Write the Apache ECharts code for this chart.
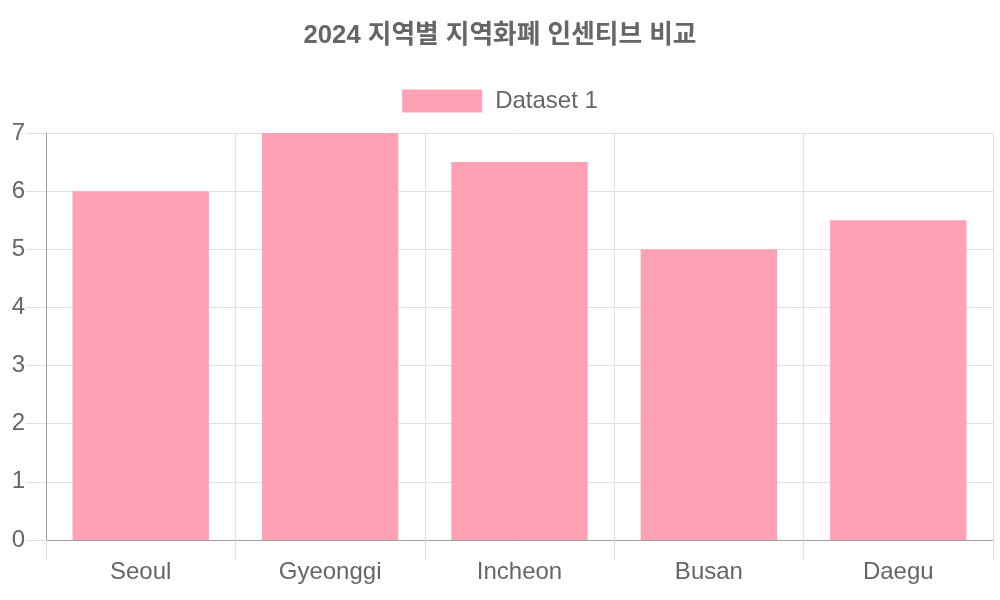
<!DOCTYPE html>
<html>
<head>
<meta charset="utf-8">
<script src="https://cdn.jsdelivr.net/npm/echarts@6/dist/echarts.min.js"></script>
<style>html,body{margin:0;padding:0;background:#fff}#c{width:1000px;height:600px}</style>
</head>
<body>
<div id="c"></div>
<script>
const titleText = '2024 지역별 지역화폐 인센티브 비교';
const seriesName = 'Dataset 1';
const categories = ['Seoul', 'Gyeonggi', 'Incheon', 'Busan', 'Daegu'];
const values = [6, 7, 6.5, 5, 5.5];

const FONT = '"Liberation Sans", Arial, "Noto Sans CJK KR", sans-serif';
const chart = echarts.init(document.getElementById('c'));
chart.setOption({
  animation: false,
  textStyle: { fontFamily: FONT },
  title: {
    text: titleText, left: 'center', top: 23, padding: 0,
    textStyle: { fontFamily: FONT, fontSize: 25.7, fontWeight: 'bold', color: '#666', lineHeight: 26 }
  },
  legend: {
    top: 89, left: 'center', icon: 'rect', itemWidth: 80, itemHeight: 23, itemGap: 12, padding: 0,
    textStyle: { fontFamily: FONT, fontSize: 24, color: '#666', lineHeight: 23, padding: [0, 0, 0, 8] },
    data: [seriesName]
  },
  grid: { left: 46, right: 7, top: 133, bottom: 60, containLabel: false, outerBoundsMode: 'none' },
  xAxis: {
    type: 'category', data: categories, boundaryGap: true,
    axisLine: { show: true, lineStyle: { color: '#a0a0a0', width: 1 } },
    axisTick: { show: true, length: 20, lineStyle: { color: '#e0e0e0' } },
    splitLine: { show: true, lineStyle: { color: '#e0e0e0' } },
    axisLabel: { fontFamily: FONT, fontSize: 24, color: '#666', margin: 20 }
  },
  yAxis: {
    type: 'value', min: 0, max: 7, interval: 1,
    axisLine: { show: true, lineStyle: { color: '#a0a0a0', width: 1 } },
    axisTick: { show: true, length: 20, lineStyle: { color: '#e0e0e0' } },
    splitLine: { show: true, lineStyle: { color: '#e0e0e0' } },
    axisLabel: { fontFamily: FONT, fontSize: 24, color: '#666', margin: 21 }
  },
  series: [{
    name: seriesName, type: 'bar', data: values, barCategoryGap: '28%',
    itemStyle: { color: '#FFA1B5' }
  }]
});
</script>
</body>
</html>
